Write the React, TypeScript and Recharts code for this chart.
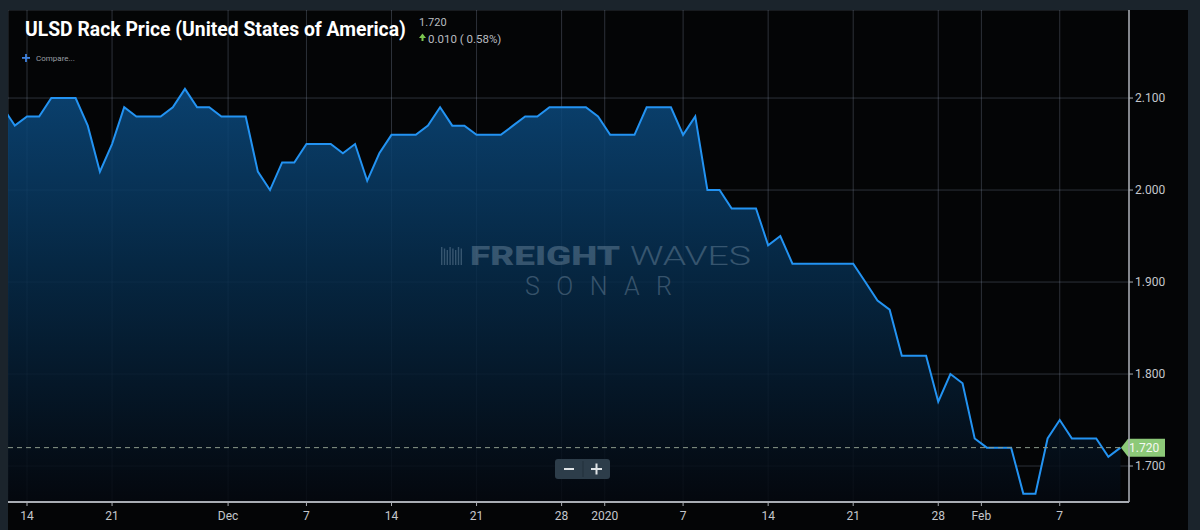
import { useLayoutEffect, useRef, useState } from "react";
import { AreaChart, Area, XAxis, YAxis, CartesianGrid, ReferenceLine } from "recharts";

// ULSD rack price, one point per day; day 0 = Nov 14, 2019
const FIRST_DAY = -2;
const prices = [
  2.09, 2.07, 2.08, 2.08, 2.1, 2.1, 2.1, 2.07, 2.02, 2.05,
  2.09, 2.08, 2.08, 2.08, 2.09, 2.11, 2.09, 2.09, 2.08, 2.08,
  2.08, 2.02, 2.0, 2.03, 2.03, 2.05, 2.05, 2.05, 2.04, 2.05,
  2.01, 2.04, 2.06, 2.06, 2.06, 2.07, 2.09, 2.07, 2.07, 2.06,
  2.06, 2.06, 2.07, 2.08, 2.08, 2.09, 2.09, 2.09, 2.09, 2.08,
  2.06, 2.06, 2.06, 2.09, 2.09, 2.09, 2.06, 2.08, 2.0, 2.0,
  1.98, 1.98, 1.98, 1.94, 1.95, 1.92, 1.92, 1.92, 1.92, 1.92,
  1.92, 1.9, 1.88, 1.87, 1.82, 1.82, 1.82, 1.77, 1.8, 1.79,
  1.73, 1.72, 1.72, 1.72, 1.67, 1.67, 1.73, 1.75, 1.73, 1.73,
  1.73, 1.71, 1.72,
];

const tickDays = [0, 7, 16.55, 23, 30, 37, 44, 47.55, 54, 61, 68, 75, 78.55, 85];
const tickLabels = ["14", "21", "Dec", "7", "14", "21", "28", "2020", "7", "14", "21", "28", "Feb", "7"];
const priceTicks = [1.7, 1.8, 1.9, 2.0, 2.1];
const lastPrice = 1.72;

const data = prices.map((price, i) => ({ day: FIRST_DAY + i, price }));

const axisText = { fontSize: 12, fill: "#c4c7cc", fontFamily: "Roboto" };

const PriceTag = (props: any) => {
  const { x, y, width } = props.viewBox;
  const left = x + width - 8;
  return (
    <g>
      <polygon
        points={`${left},${y} ${left + 7},${y - 9} ${left + 44},${y - 9} ${left + 44},${y + 9} ${left + 7},${y + 9}`}
        fill="#8cc978"
      />
      <text x={left + 8} y={y + 4.5} fontSize={12} fill="#f4f8f2" fontFamily="Roboto">
        {lastPrice.toFixed(3)}
      </text>
    </g>
  );
};

// condensed title: squeeze Roboto Bold to the width of the original heading
function Title() {
  const ref = useRef<HTMLSpanElement>(null);
  const [scale, setScale] = useState(1);
  useLayoutEffect(() => {
    if (ref.current) setScale(381 / ref.current.offsetWidth);
  }, []);
  return (
    <span
      ref={ref}
      style={{
        position: "absolute",
        left: 25,
        top: 16.5,
        fontSize: 21,
        lineHeight: "24px",
        fontWeight: 700,
        color: "#ffffff",
        whiteSpace: "nowrap",
        transform: `scaleX(${scale})`,
        transformOrigin: "0 0",
      }}
    >
      ULSD Rack Price (United States of America)
    </span>
  );
}

export default function App() {
  return (
    <div
      style={{
        position: "relative",
        width: 1200,
        height: 530,
        background: "#1b242c",
        overflow: "hidden",
        fontFamily: "Roboto",
      }}
    >
      <style>{"body{margin:0}"}</style>
      <div style={{ position: "absolute", left: 8, top: 10, width: 1180, height: 520, background: "#040506" }}>
        <AreaChart width={1180} height={520} data={data} margin={{ top: 0, right: 0, bottom: 0, left: 0 }}>
          <defs>
            <linearGradient id="ulsdFill" x1="0" y1="0" x2="0" y2="1">
              <stop offset="0%" stopColor="#0b4a7f" />
              <stop offset="45%" stopColor="#062b4a" />
              <stop offset="100%" stopColor="#04080f" />
            </linearGradient>
          </defs>
          <CartesianGrid stroke="rgba(150,165,190,0.28)" strokeWidth={1} />
          <XAxis
            type="number"
            dataKey="day"
            domain={[-1.564, 90.7]}
            allowDataOverflow
            ticks={tickDays}
            interval={0}
            tickFormatter={(v: number) => tickLabels[tickDays.indexOf(v)]}
            height={28}
            tick={axisText}
            axisLine={{ stroke: "#a9adb3", strokeWidth: 2 }}
            tickLine={{ stroke: "#a9adb3" }}
            tickSize={4}
            tickMargin={5}
          />
          <YAxis
            orientation="right"
            type="number"
            domain={[1.6609, 2.1957]}
            allowDataOverflow
            ticks={priceTicks}
            interval={0}
            tickFormatter={(v: number) => v.toFixed(3)}
            width={59}
            tick={axisText}
            axisLine={{ stroke: "#a9adb3", strokeWidth: 1.5 }}
            tickLine={{ stroke: "#a9adb3" }}
            tickSize={4}
            tickMargin={2}
          />
          <Area
            type="linear"
            dataKey="price"
            stroke="#2393f2"
            strokeWidth={2}
            fill="url(#ulsdFill)"
            fillOpacity={0.86}
            dot={false}
            activeDot={false}
            isAnimationActive={false}
          />
          <ReferenceLine
            y={lastPrice}
            stroke="#8b9a8a"
            strokeDasharray="5 4"
            strokeWidth={1}
            label={<PriceTag />}
          />
        </AreaChart>
      </div>
      <svg
        width={1200}
        height={530}
        style={{ position: "absolute", left: 0, top: 0, pointerEvents: "none" }}
        fontFamily="Roboto"
      >
        <text x={419} y={26} fontSize={11} fill="#b9bcc0">1.720</text>
        <polygon points="419,38 422.5,33.5 426,38" fill="#7cc650" />
        <rect x={421.5} y={37.5} width={2} height={3.5} fill="#7cc650" />
        <text x={428} y={42.5} fontSize={11.5} fill="#b9bcc0">0.010 ( 0.58%)</text>
        <rect x={22} y={57} width={8} height={1.8} fill="#3f82de" />
        <rect x={25.1} y={54} width={1.8} height={8} fill="#3f82de" />
        <text x={36} y={61} fontSize={8} fill="#9a9ea4">Compare...</text>

        {/* watermark */}
        <g fill="#9db4c8" opacity={0.32}>
          {[0, 1, 2, 3, 4, 5, 6, 7].map((k) => (
            <rect key={k} x={441 + k * 2.8} y={247 + (k % 3) * 1.5} width={1.4} height={18 - (k % 3) * 1.5} />
          ))}
          <text x={470} y={265} fontSize={25} fontWeight={900} textLength={150} lengthAdjust="spacingAndGlyphs">
            FREIGHT
          </text>
          <text x={630} y={265} fontSize={25} fontWeight={300} textLength={121} lengthAdjust="spacingAndGlyphs">
            WAVES
          </text>
          <text x={525} y={295} fontSize={25} fontWeight={300} textLength={147} lengthAdjust="spacing">
            SONAR
          </text>
        </g>

        {/* zoom buttons */}
        <rect x={555} y={459} width={55} height={20} rx={3} fill="#2d3d4a" />
        <line x1={583} y1={461} x2={583} y2={477} stroke="#22303b" strokeWidth={1} />
        <rect x={564} y={468} width={10} height={2} fill="#dfe3e6" />
        <rect x={591} y={468} width={11} height={2} fill="#dfe3e6" />
        <rect x={595.5} y={463.5} width={2} height={11} fill="#dfe3e6" />
      </svg>
      <Title />
    </div>
  );
}
